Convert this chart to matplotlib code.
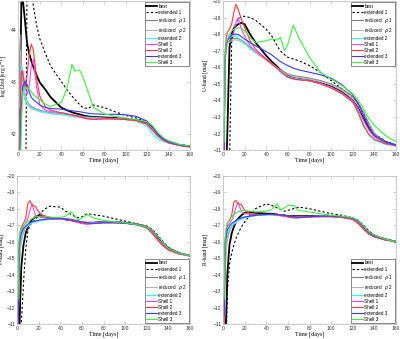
import matplotlib
matplotlib.use("Agg")
import matplotlib.pyplot as plt
from matplotlib.ticker import AutoMinorLocator

# shared time grid [days]
t = [1, 2, 3, 4, 6, 8, 10, 12, 14, 17, 20, 25, 30, 40, 45, 50, 53, 57, 60, 65,
     70, 80, 90, 100, 110, 120, 125, 130, 135, 140, 150, 160]

labels = ["best", "extended 1", r"reduced   $\rho$ 1", r"reduced   $\rho$ 2",
          "extended 2", "Shell 1", "Shell 2", "extended 3", "Shell 3"]

colors = ["#000000", "#000000", "#7f7f7f", "#b3b3b3", "#33ffff",
          "#ff44ff", "#ff3b3b", "#3b3bff", "#3fef3f"]

# ---- bolometric luminosity [log erg/s]
lbol_best = [41.0, 43.5, 44.8, 44.6, 44.2, 43.75, 43.55, 43.4, 43.28, 43.12, 42.98, 42.85, 42.7,
             42.5, 42.45, 42.41, 42.39, 42.37, 42.35, 42.33, 42.32, 42.31, 42.3, 42.28, 42.26,
             42.2, 42.12, 41.98, 41.9, 41.84, 41.78, 41.75]
lbol_ext1 = [38.0, 38.0, 38.0, 38.0, 38.0, 44.8, 44.9, 44.75, 44.45, 44.08, 43.82, 43.55, 43.3,
             43.0, 42.85, 42.72, 42.65, 42.56, 42.5, 42.48, 42.55, 42.5, 42.42, 42.35, 42.3,
             42.22, 42.14, 42.0, 41.9, 41.85, 41.79, 41.76]
lbol_red1 = [43.0, 43.9, 43.3, 43.0, 42.75, 42.62, 42.56, 42.52, 42.5, 42.47, 42.45, 42.42, 42.4,
             42.38, 42.37, 42.36, 42.35, 42.34, 42.33, 42.32, 42.31, 42.3, 42.29, 42.28, 42.25,
             42.19, 42.1, 41.97, 41.89, 41.84, 41.78, 41.75]
lbol_red2 = [42.5, 43.6, 43.1, 42.85, 42.65, 42.57, 42.52, 42.48, 42.46, 42.44, 42.42, 42.4, 42.38,
             42.36, 42.35, 42.34, 42.33, 42.32, 42.31, 42.3, 42.3, 42.29, 42.28, 42.27, 42.24,
             42.18, 42.09, 41.96, 41.88, 41.83, 41.78, 41.75]
lbol_ext2 = [41.5, 43.0, 43.3, 43.1, 42.75, 42.6, 42.55, 42.5, 42.48, 42.45, 42.43, 42.41, 42.39,
             42.37, 42.35, 42.33, 42.32, 42.32, 42.31, 42.3, 42.3, 42.29, 42.28, 42.27, 42.24,
             42.14, 42.0, 41.9, 41.85, 41.82, 41.77, 41.75]
lbol_sh1 = [41.0, 42.8, 43.2, 43.22, 42.95, 42.75, 42.9, 43.3, 43.42, 42.9, 42.55, 42.45, 42.42,
            42.4, 42.38, 42.36, 42.34, 42.33, 42.31, 42.29, 42.28, 42.29, 42.28, 42.27, 42.25,
            42.18, 42.08, 41.96, 41.88, 41.82, 41.77, 41.75]
lbol_sh2 = [41.0, 42.8, 43.2, 43.15, 42.9, 43.1, 43.5, 43.72, 43.6, 43.05, 42.72, 42.52, 42.45,
            42.4, 42.38, 42.36, 42.34, 42.32, 42.3, 42.28, 42.27, 42.28, 42.28, 42.27, 42.25,
            42.18, 42.06, 41.95, 41.87, 41.82, 41.77, 41.74]
lbol_ext3 = [41.0, 42.0, 42.6, 42.9, 43.0, 42.95, 42.8, 42.7, 42.65, 42.6, 42.55, 42.5, 42.48,
             42.47, 42.45, 42.44, 42.43, 42.42, 42.41, 42.39, 42.38, 42.37, 42.37, 42.36, 42.33,
             42.24, 42.13, 41.99, 41.9, 41.84, 41.78, 41.75]
lbol_sh3 = [40.5, 41.5, 42.3, 42.8, 42.9, 42.88, 42.85, 42.8, 42.75, 42.7, 42.65, 42.57, 42.52,
            42.6, 42.85, 43.33, 43.2, 43.22, 43.1, 42.8, 42.5, 42.38, 42.33, 42.3, 42.27,
            42.22, 42.15, 42.02, 41.92, 41.86, 41.79, 41.76]

# ---- U-band [mag]
u_best = [-10.0, -10.0, -10.0, -12.0, -17.2, -18.0, -18.35, -18.5, -18.6, -18.68, -18.6, -18.0, -17.5,
          -16.7, -16.35, -16.05, -15.85, -15.65, -15.5, -15.35, -15.3, -15.2, -15.05, -14.85, -14.5,
          -14.0, -13.55, -12.9, -12.3, -11.9, -11.5, -11.3]
u_ext1 = [-10.0, -10.0, -10.0, -10.0, -10.0, -17.5, -18.3, -18.7, -18.9, -19.05, -19.08, -19.0, -18.85,
          -18.3, -17.9, -17.3, -17.0, -16.75, -16.6, -16.5, -16.4, -16.1, -15.7, -15.2, -14.7,
          -14.2, -13.8, -13.2, -12.5, -12.0, -11.55, -11.3]
u_red1 = [-11.5, -16.5, -17.3, -17.5, -17.6, -17.7, -17.75, -17.75, -17.72, -17.65, -17.5, -17.2, -16.95,
          -16.5, -16.25, -16.0, -15.85, -15.7, -15.6, -15.5, -15.45, -15.35, -15.2, -15.0, -14.7,
          -14.25, -13.85, -13.3, -12.6, -12.0, -11.5, -11.3]
u_red2 = [-11.2, -16.2, -17.1, -17.4, -17.5, -17.6, -17.65, -17.65, -17.62, -17.55, -17.42, -17.12, -16.9,
          -16.45, -16.2, -15.95, -15.8, -15.65, -15.55, -15.45, -15.4, -15.3, -15.15, -14.95, -14.62,
          -14.15, -13.7, -13.1, -12.45, -11.95, -11.45, -11.3]
u_ext2 = [-11.8, -16.5, -17.4, -17.6, -17.75, -17.85, -17.9, -17.88, -17.8, -17.6, -17.45, -17.15, -16.9,
          -16.45, -16.2, -15.95, -15.8, -15.6, -15.45, -15.35, -15.3, -15.2, -15.0, -14.8, -14.45,
          -13.9, -13.2, -12.4, -11.9, -11.6, -11.35, -11.25]
u_sh1 = [-11.0, -16.5, -17.5, -17.7, -17.85, -17.95, -18.1, -18.7, -19.0, -18.3, -17.9, -17.3, -16.95,
         -16.45, -16.2, -15.95, -15.75, -15.55, -15.4, -15.3, -15.25, -15.2, -15.05, -14.8, -14.45,
         -14.0, -13.5, -12.8, -12.2, -11.8, -11.4, -11.25]
u_sh2 = [-11.0, -17.0, -17.8, -18.1, -18.3, -18.6, -19.3, -19.8, -19.5, -18.9, -18.4, -17.6, -17.1,
         -16.5, -16.2, -15.95, -15.75, -15.55, -15.4, -15.3, -15.25, -15.2, -15.0, -14.75, -14.4,
         -13.9, -13.3, -12.5, -11.95, -11.65, -11.4, -11.3]
u_ext3 = [-11.0, -16.5, -17.4, -17.6, -17.8, -17.95, -18.0, -18.0, -17.98, -17.85, -17.7, -17.5, -17.3,
          -16.95, -16.75, -16.5, -16.35, -16.2, -16.1, -15.95, -15.85, -15.7, -15.55, -15.35, -14.95,
          -14.35, -13.8, -13.1, -12.4, -11.9, -11.5, -11.3]
u_sh3 = [-11.5, -16.8, -17.5, -17.7, -18.0, -18.2, -18.3, -18.35, -18.38, -18.35, -18.2, -17.8, -17.5,
         -17.6, -17.7, -17.65, -17.8, -17.0, -17.4, -18.55, -17.8, -16.6, -15.7, -15.3, -14.9,
         -14.4, -14.0, -13.5, -12.9, -12.5, -11.9, -11.5]

# ---- V-band [mag]
v_best = [-10.0, -10.0, -12.5, -14.5, -15.8, -16.5, -16.9, -17.15, -17.35, -17.5, -17.6, -17.55, -17.45,
          -17.4, -17.35, -17.3, -17.25, -17.2, -17.15, -17.15, -17.15, -17.2, -17.2, -17.15, -17.05,
          -16.9, -16.65, -16.3, -15.9, -15.6, -15.3, -15.15]
v_ext1 = [-10.0, -10.0, -10.0, -11.0, -13.5, -15.5, -16.6, -17.0, -17.15, -17.35, -17.6, -17.95, -18.15,
          -18.1, -17.85, -17.65, -17.55, -17.45, -17.5, -17.7, -17.65, -17.55, -17.4, -17.25, -17.1,
          -16.95, -16.75, -16.4, -16.0, -15.65, -15.3, -15.15]
v_red1 = [-11.5, -14.5, -15.8, -16.2, -16.6, -16.85, -17.0, -17.1, -17.18, -17.25, -17.3, -17.35, -17.38,
          -17.4, -17.38, -17.35, -17.3, -17.25, -17.2, -17.15, -17.15, -17.2, -17.2, -17.15, -17.05,
          -16.9, -16.6, -16.2, -15.85, -15.55, -15.3, -15.15]
v_red2 = [-11.2, -13.8, -15.4, -16.0, -16.5, -16.8, -16.95, -17.05, -17.15, -17.22, -17.28, -17.33, -17.36,
          -17.38, -17.36, -17.33, -17.28, -17.23, -17.18, -17.14, -17.13, -17.18, -17.18, -17.13, -17.03,
          -16.88, -16.55, -16.15, -15.8, -15.52, -15.28, -15.15]
v_ext2 = [-11.5, -15.5, -16.0, -16.3, -16.7, -16.9, -17.0, -17.1, -17.15, -17.2, -17.25, -17.3, -17.35,
          -17.38, -17.36, -17.33, -17.28, -17.22, -17.18, -17.14, -17.13, -17.18, -17.18, -17.12, -17.02,
          -16.85, -16.5, -16.1, -15.75, -15.5, -15.25, -15.15]
v_sh1 = [-11.0, -15.8, -16.4, -16.7, -16.95, -17.1, -17.4, -17.9, -18.3, -17.6, -17.5, -17.45, -17.4,
         -17.38, -17.35, -17.3, -17.25, -17.15, -17.1, -17.05, -17.1, -17.15, -17.15, -17.12, -17.05,
         -16.85, -16.55, -16.15, -15.8, -15.5, -15.25, -15.15]
v_sh2 = [-11.0, -16.0, -16.6, -16.9, -17.1, -17.4, -18.3, -18.5, -18.2, -18.15, -17.8, -17.55, -17.45,
         -17.4, -17.35, -17.3, -17.25, -17.2, -17.15, -17.1, -17.1, -17.15, -17.15, -17.12, -17.05,
         -16.85, -16.5, -16.1, -15.75, -15.5, -15.25, -15.15]
v_ext3 = [-11.0, -15.5, -16.2, -16.5, -16.8, -16.95, -17.05, -17.15, -17.2, -17.25, -17.3, -17.35, -17.38,
          -17.4, -17.38, -17.35, -17.3, -17.25, -17.2, -17.15, -17.12, -17.15, -17.15, -17.12, -17.05,
          -16.9, -16.7, -16.35, -15.95, -15.6, -15.3, -15.15]
v_sh3 = [-12.5, -16.2, -16.6, -16.8, -17.0, -17.1, -17.2, -17.3, -17.4, -17.5, -17.55, -17.55, -17.5,
         -17.45, -17.55, -17.8, -17.6, -17.3, -17.45, -17.65, -17.45, -17.3, -17.2, -17.15, -17.05,
         -16.9, -16.7, -16.35, -15.95, -15.6, -15.3, -15.15]

# ---- R-band [mag]
r_best = [-10.0, -10.0, -11.5, -14.0, -15.8, -16.5, -16.9, -17.2, -17.4, -17.6, -17.75, -17.8, -17.75,
          -17.7, -17.7, -17.65, -17.6, -17.6, -17.55, -17.55, -17.55, -17.55, -17.55, -17.55, -17.5,
          -17.4, -17.25, -16.9, -16.55, -16.35, -16.15, -16.0]
r_ext1 = [-10.0, -10.0, -10.0, -13.0, -14.6, -15.3, -15.8, -16.2, -16.5, -16.9, -17.2, -17.6, -18.0,
          -18.3, -18.2, -18.05, -17.95, -17.85, -17.9, -18.0, -18.1, -18.0, -17.85, -17.7, -17.6,
          -17.45, -17.3, -17.0, -16.65, -16.4, -16.15, -16.0]
r_red1 = [-11.5, -14.5, -15.8, -16.3, -16.7, -16.95, -17.1, -17.2, -17.3, -17.4, -17.48, -17.55, -17.6,
          -17.65, -17.65, -17.62, -17.6, -17.58, -17.55, -17.52, -17.5, -17.52, -17.55, -17.55, -17.5,
          -17.4, -17.2, -16.85, -16.5, -16.3, -16.15, -16.0]
r_red2 = [-11.2, -14.0, -15.5, -16.1, -16.6, -16.9, -17.05, -17.15, -17.25, -17.35, -17.45, -17.52, -17.58,
          -17.63, -17.63, -17.6, -17.58, -17.56, -17.53, -17.5, -17.49, -17.51, -17.54, -17.54, -17.49,
          -17.38, -17.18, -16.82, -16.48, -16.3, -16.13, -16.0]
r_ext2 = [-12.2, -15.6, -16.2, -16.5, -16.8, -17.0, -17.1, -17.2, -17.3, -17.38, -17.45, -17.52, -17.58,
          -17.62, -17.62, -17.6, -17.58, -17.55, -17.52, -17.5, -17.5, -17.52, -17.55, -17.55, -17.5,
          -17.35, -17.1, -16.75, -16.45, -16.3, -16.1, -16.0]
r_sh1 = [-11.0, -16.0, -16.6, -16.9, -17.1, -17.3, -17.6, -18.1, -18.4, -17.8, -17.7, -17.65, -17.65,
         -17.65, -17.65, -17.62, -17.6, -17.55, -17.5, -17.45, -17.45, -17.5, -17.52, -17.52, -17.48,
         -17.35, -17.15, -16.8, -16.5, -16.3, -16.1, -16.0]
r_sh2 = [-11.0, -16.2, -16.8, -17.1, -17.3, -17.6, -18.4, -18.5, -18.3, -18.25, -17.9, -17.7, -17.65,
         -17.65, -17.65, -17.62, -17.6, -17.55, -17.5, -17.45, -17.45, -17.5, -17.52, -17.52, -17.48,
         -17.35, -17.1, -16.75, -16.45, -16.3, -16.1, -16.0]
r_ext3 = [-11.5, -15.8, -16.4, -16.7, -16.95, -17.1, -17.2, -17.3, -17.38, -17.45, -17.5, -17.55, -17.6,
          -17.65, -17.68, -17.65, -17.62, -17.6, -17.55, -17.52, -17.5, -17.52, -17.55, -17.55, -17.52,
          -17.42, -17.25, -16.9, -16.55, -16.35, -16.15, -16.0]
r_sh3 = [-12.5, -16.2, -16.8, -17.1, -17.35, -17.5, -17.65, -17.75, -17.82, -17.88, -17.9, -17.85, -17.8,
         -17.85, -17.95, -18.3, -17.95, -18.05, -18.2, -18.2, -17.9, -17.8, -17.7, -17.6, -17.55,
         -17.45, -17.3, -16.95, -16.6, -16.4, -16.15, -16.0]

panels = [
    ([lbol_best, lbol_ext1, lbol_red1, lbol_red2, lbol_ext2, lbol_sh1, lbol_sh2, lbol_ext3, lbol_sh3],
     r"log Lbol [erg s$^{-1}$]", (41.68, 44.55), [42, 43, 44], "upper right"),
    ([u_best, u_ext1, u_red1, u_red2, u_ext2, u_sh1, u_sh2, u_ext3, u_sh3],
     "U-band [mag]", (-11, -20), list(range(-20, -10)), "upper right"),
    ([v_best, v_ext1, v_red1, v_red2, v_ext2, v_sh1, v_sh2, v_ext3, v_sh3],
     "V-band [mag]", (-11, -20), list(range(-20, -10)), "lower right"),
    ([r_best, r_ext1, r_red1, r_red2, r_ext2, r_sh1, r_sh2, r_ext3, r_sh3],
     "R-band [mag]", (-11, -20), list(range(-20, -10)), "lower right"),
]

rects = [
    [0.046, 0.557, 0.429, 0.440],
    [0.5575, 0.557, 0.4325, 0.440],
    [0.0425, 0.044, 0.4325, 0.4375],
    [0.5575, 0.044, 0.4325, 0.4375],
]
ylabel_x = [-0.052, -0.085, -0.075, -0.085]

fig = plt.figure(figsize=(4.0, 3.39), dpi=100)

for rect, lx, (series, ylabel, ylim, yticks, loc) in zip(rects, ylabel_x, panels):
    ax = fig.add_axes(rect)
    for i, values in enumerate(series):
        if i == 0:
            ax.plot(t, values, color=colors[i], lw=1.3, label=labels[i])
        elif i == 1:
            ax.plot(t, values, color=colors[i], lw=0.8, ls=(0, (2, 2)), label=labels[i])
        else:
            ax.plot(t, values, color=colors[i], lw=0.8, label=labels[i])
    ax.set_xlim(0, 160)
    ax.set_ylim(*ylim)
    ax.set_xticks(range(0, 161, 20))
    ax.set_yticks(yticks)
    ax.xaxis.set_minor_locator(AutoMinorLocator(4))
    ax.yaxis.set_minor_locator(AutoMinorLocator(5))
    ax.tick_params(which="both", direction="in", top=True, right=True,
                   labelsize=3.6, labelcolor="#333333", pad=1.2)
    ax.tick_params(which="major", length=2, width=0.4, color="#aaaaaa")
    ax.tick_params(which="minor", length=1, width=0.3, color="#aaaaaa")
    for lab in ax.get_xticklabels() + ax.get_yticklabels():
        lab.set_family("Liberation Sans")
    for s in ax.spines.values():
        s.set_color("#bbbbbb")
        s.set_linewidth(0.5)
    ax.set_xlabel("Time [days]", family="Liberation Serif", fontsize=4.3, labelpad=0.5)
    ax.set_ylabel(ylabel, family="Liberation Serif", fontsize=4.0)
    ax.yaxis.set_label_coords(lx, 0.5)
    leg = ax.legend(loc=loc, prop={"family": "Liberation Sans", "size": 3.3},
                    frameon=True, fancybox=False, edgecolor="#333333", framealpha=1,
                    handlelength=2.4, labelspacing=0.22, borderpad=0.3,
                    handletextpad=0.3, borderaxespad=0.25)
    leg.get_frame().set_linewidth(0.4)

fig.savefig("out.png", dpi=100)
